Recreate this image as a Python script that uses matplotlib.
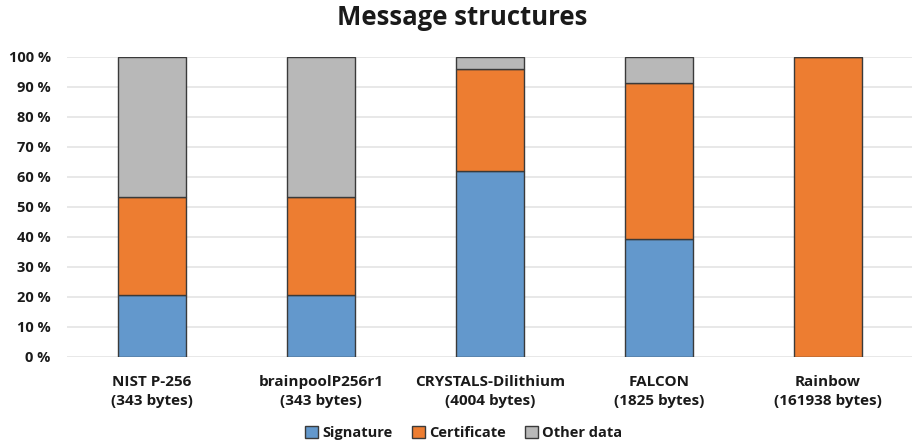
import numpy as np
import matplotlib
matplotlib.use("Agg")
import matplotlib.pyplot as plt
from matplotlib.ticker import FuncFormatter

plt.rcParams['font.family'] = ['Open Sans', 'DejaVu Sans']
plt.rcParams['font.weight'] = 'bold'

# share of each message part, percent
schemes = ["NIST P-256\n(343 bytes)", "brainpoolP256r1\n(343 bytes)",
           "CRYSTALS-Dilithium\n(4004 bytes)", "FALCON\n(1825 bytes)",
           "Rainbow\n(161938 bytes)"]
signature = [20.5, 20.5, 61.9, 39.2, 0.04]
certificate = [32.7, 32.7, 34.0, 51.9, 99.85]
other_data = [46.8, 46.8, 4.1, 8.9, 0.11]

colors = ["#6398CC", "#ED7D31", "#B8B8B8"]
edge = "#3a3a3a"

fig = plt.figure(figsize=(9.13, 4.45), dpi=100)
ax = fig.add_axes([0.0739, 0.1984, 0.9255, 0.6742])

x = np.arange(len(schemes))
w = 0.40
bottom = np.zeros(len(schemes))
for vals, col, name in zip([signature, certificate, other_data], colors,
                           ["Signature", "Certificate", "Other data"]):
    ax.bar(x, vals, w, bottom=bottom, color=col, edgecolor=edge,
           linewidth=1.0, label=name, zorder=3)
    bottom += np.array(vals)

ax.set_xlim(-0.5, len(schemes) - 0.5)
ax.set_ylim(0, 100)
ax.set_yticks(np.arange(0, 101, 10))
ax.yaxis.set_major_formatter(FuncFormatter(lambda v, p: "%d %%" % v))
ax.set_xticks(x)
ax.set_xticklabels(schemes, fontsize=11, fontweight='bold', color="#1a1a1a",
                   linespacing=1.45)
for lab in ax.get_yticklabels():
    lab.set_fontsize(10.5)
    lab.set_fontweight('bold')
    lab.set_color("#1a1a1a")
ax.tick_params(axis='y', length=0, pad=12)
ax.tick_params(axis='x', length=0, pad=13)
ax.grid(axis='y', color="#e4e4e4", linewidth=1.2, zorder=0)
for s in ax.spines.values():
    s.set_visible(False)

fig.suptitle("Message structures", x=0.506, y=0.99, fontsize=18.5,
             fontweight='bold', color="#1a1a1a")

leg = ax.legend(loc='center', bbox_to_anchor=(0.469, -0.255), ncol=3,
                frameon=False, handlelength=0.9, handleheight=0.9,
                handletextpad=0.3, columnspacing=1.3,
                prop={'size': 10.5, 'weight': 'bold'})
for t in leg.get_texts():
    t.set_color("#1a1a1a")

fig.savefig("out.png", dpi=100)
